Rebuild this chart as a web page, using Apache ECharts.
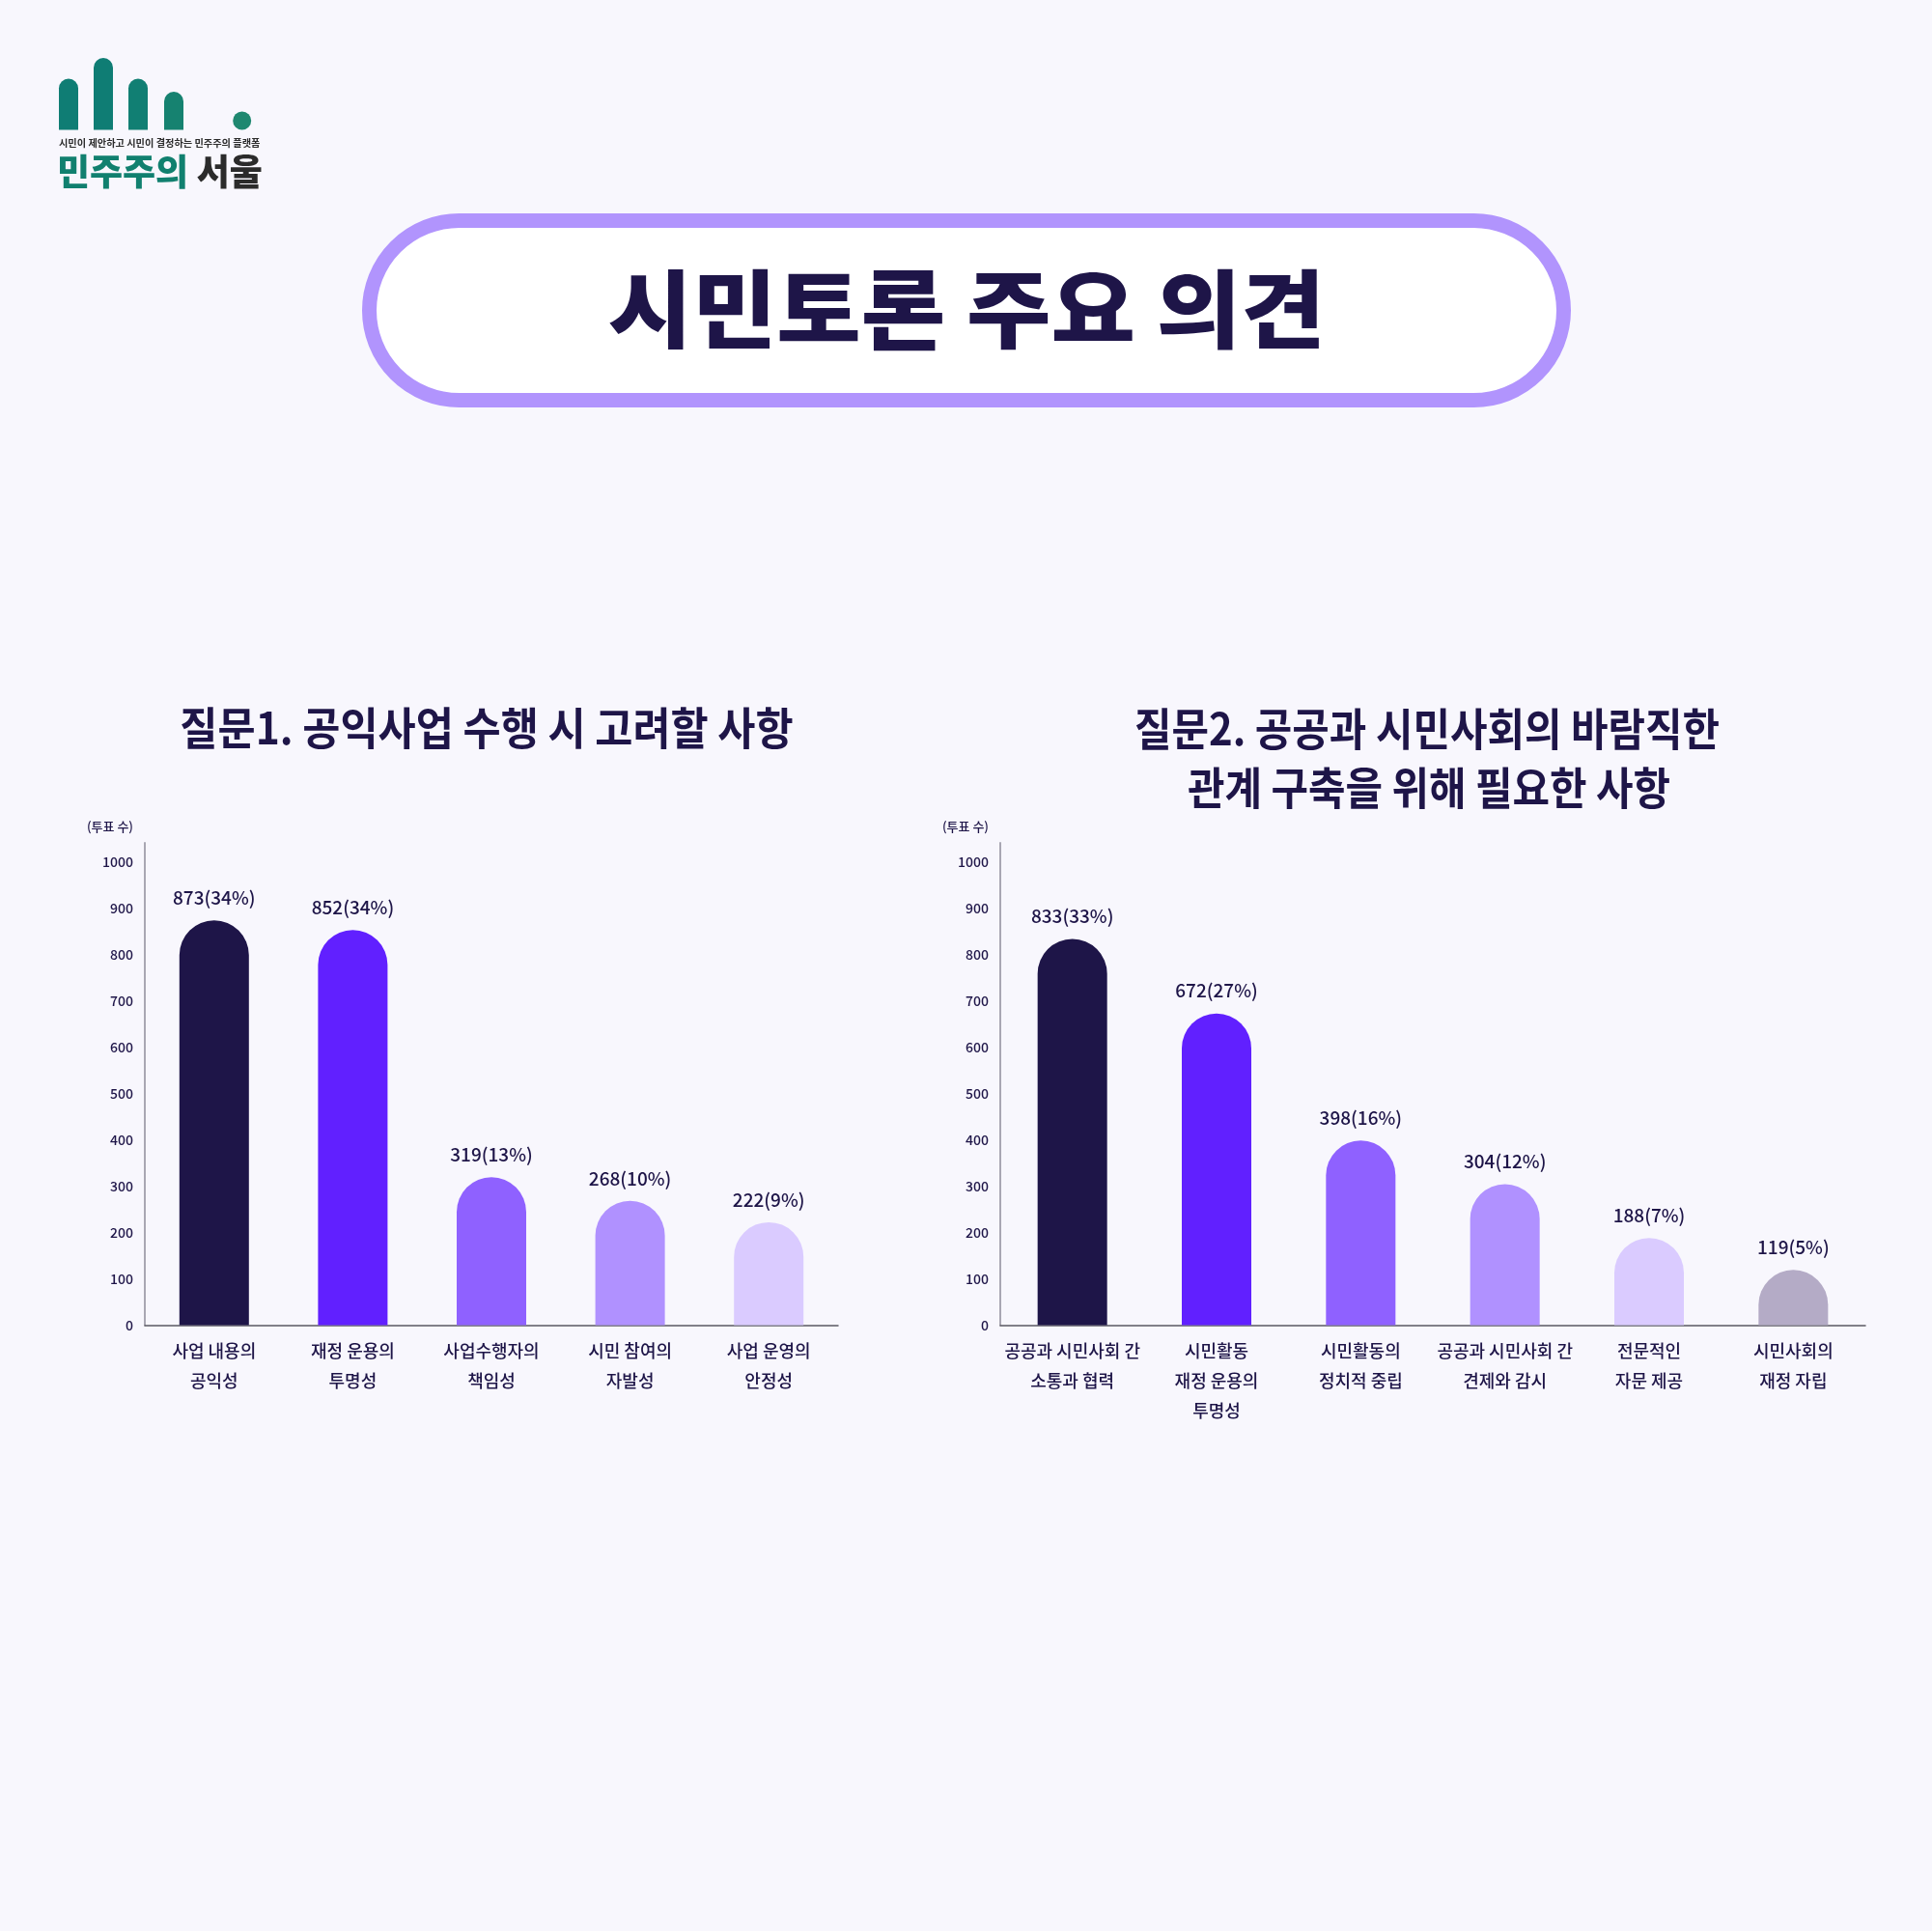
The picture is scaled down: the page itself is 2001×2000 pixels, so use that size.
<!DOCTYPE html>
<html>
<head>
<meta charset="utf-8">
<script src="https://cdn.jsdelivr.net/npm/echarts@6/dist/echarts.min.js"></script>
<style>
html,body{margin:0;padding:0;background:#f8f7fd;}
#c{width:2001px;height:2000px;}
</style>
</head>
<body>
<div id="c"></div>
<script>
// ---- data ----
var cats1 = ['사업 내용의\n공익성', '재정 운용의\n투명성', '사업수행자의\n책임성', '시민 참여의\n자발성', '사업 운영의\n안정성'];
var votes1 = [873, 852, 319, 268, 222];
var pct1 = [34, 34, 13, 10, 9];

var cats2 = ['공공과 시민사회 간\n소통과 협력', '시민활동\n재정 운용의\n투명성', '시민활동의\n정치적 중립', '공공과 시민사회 간\n견제와 감시', '전문적인\n자문 제공', '시민사회의\n재정 자립'];
var votes2 = [833, 672, 398, 304, 188, 119];
var pct2 = [33, 27, 16, 12, 7, 5];

var yTicks = [0, 100, 200, 300, 400, 500, 600, 700, 800, 900, 1000];

// ---- styles ----
var colors1 = ['#1e1548', '#6120ff', '#8f61ff', '#b091ff', '#dacbff'];
var colors2 = ['#1e1548', '#6120ff', '#8f61ff', '#b091ff', '#dacbff', '#b4abc6'];
var navy = '#1e1548';
var FONT = '"Noto Sans CJK KR", "Noto Sans", sans-serif';

function mk(vals, cols, pcts) {
  return vals.map(function (v, i) {
    return { value: v, pct: pcts[i], itemStyle: { color: cols[i] } };
  });
}

function xAx(idx, cats) {
  return {
    type: 'category', gridIndex: idx, data: cats,
    axisTick: { show: false },
    axisLine: { lineStyle: { color: '#5a5a62', width: 1.5 } },
    axisLabel: { color: navy, fontSize: 18, fontWeight: 500, lineHeight: 31, margin: 11, fontFamily: FONT, interval: 0 }
  };
}
function yAx(idx) {
  return {
    type: 'value', gridIndex: idx, min: yTicks[0], max: 1040, interval: 100,
    name: '(투표 수)', nameLocation: 'end', nameGap: 17,
    nameTextStyle: { color: navy, fontSize: 13, fontWeight: 500, fontFamily: FONT, align: 'right', verticalAlign: 'middle', padding: [0, 12, 0, 0] },
    splitLine: { show: false },
    axisTick: { show: false },
    axisLine: { show: true, lineStyle: { color: '#a9a7b3', width: 2 } },
    axisLabel: {
      color: navy, fontSize: 14, fontWeight: 500, margin: 12, fontFamily: FONT, showMaxLabel: false,
      formatter: function (v) { return v > yTicks[yTicks.length - 1] ? '' : String(v); }
    }
  };
}
function series(idx, data) {
  return {
    type: 'bar', xAxisIndex: idx, yAxisIndex: idx, data: data,
    barWidth: 72,
    itemStyle: { borderRadius: [36, 36, 0, 0] },
    label: {
      show: true, position: 'top', distance: 14, color: navy, fontSize: 19, fontWeight: 500, fontFamily: FONT,
      formatter: function (p) { return p.value + '(' + p.data.pct + '%)'; }
    }
  };
}

var chart = echarts.init(document.getElementById('c'), null, { renderer: 'canvas' });
chart.setOption({
  backgroundColor: '#f8f7fd',
  animation: false,
  grid: [
    { left: 150, top: 873, width: 718, height: 499.5 },
    { left: 1036, top: 873, width: 896, height: 499.5 }
  ],
  xAxis: [xAx(0, cats1), xAx(1, cats2)],
  yAxis: [yAx(0), yAx(1)],
  series: [series(0, mk(votes1, colors1, pct1)), series(1, mk(votes2, colors2, pct2))],
  graphic: [
    // logo
    { type: 'rect', shape: { x: 61, y: 81.5, width: 20, height: 53, r: [10, 10, 0, 0] }, style: { fill: '#0f7d74' } },
    { type: 'rect', shape: { x: 97, y: 60, width: 20, height: 74.5, r: [10, 10, 0, 0] }, style: { fill: '#0f7d74' } },
    { type: 'rect', shape: { x: 133, y: 81.5, width: 20, height: 53, r: [10, 10, 0, 0] }, style: { fill: '#117f73' } },
    { type: 'rect', shape: { x: 170, y: 95, width: 20, height: 39.5, r: [10, 10, 0, 0] }, style: { fill: '#168270' } },
    { type: 'circle', shape: { cx: 250.7, cy: 125, r: 9.5 }, style: { fill: '#1f8870' } },
    { type: 'text', x: 61, y: 148, style: { text: '시민이 제안하고 시민이 결정하는 민주주의 플랫폼', font: 'bold 10.2px ' + FONT, fill: '#2b2b2b', textVerticalAlign: 'middle' } },
    { type: 'text', x: 59, y: 178, style: {
        text: '{a|민주주의} {b|서울}', textVerticalAlign: 'middle',
        rich: {
          a: { fontSize: 37, fontWeight: 900, fontFamily: FONT, fill: '#11806f' },
          b: { fontSize: 37, fontWeight: 900, fontFamily: FONT, fill: '#2b2b2b' }
        },
        font: '900 37px ' + FONT
      } },
    // header pill
    { type: 'rect', shape: { x: 382.5, y: 228.5, width: 1237, height: 186, r: 93 }, style: { fill: '#ffffff', stroke: '#b194fd', lineWidth: 15 } },
    { type: 'text', x: 1001, y: 320, scaleX: 1.08, style: { text: '시민토론 주요 의견', font: '900 88px ' + FONT, fill: navy, textAlign: 'center', textVerticalAlign: 'middle' } },
    // chart titles
    { type: 'text', x: 504, y: 754, scaleX: 0.925, style: { text: '질문1. 공익사업 수행 시 고려할 사항', font: 'bold 46px ' + FONT, fill: navy, textAlign: 'center', textVerticalAlign: 'middle' } },
    { type: 'text', x: 1478, y: 755, scaleX: 0.91, style: { text: '질문2. 공공과 시민사회의 바람직한', font: 'bold 46px ' + FONT, fill: navy, textAlign: 'center', textVerticalAlign: 'middle' } },
    { type: 'text', x: 1480, y: 816, scaleX: 0.91, style: { text: '관계 구축을 위해 필요한 사항', font: 'bold 46px ' + FONT, fill: navy, textAlign: 'center', textVerticalAlign: 'middle' } }
  ]
});
</script>
</body>
</html>
